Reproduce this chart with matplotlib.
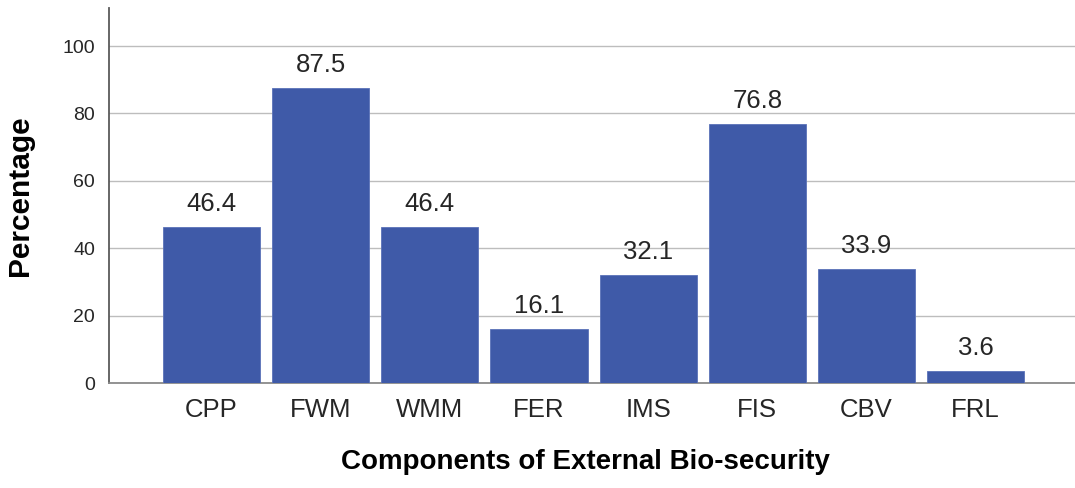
import matplotlib.pyplot as plt

plt.rcParams['font.family'] = ['Liberation Sans', 'DejaVu Sans']

components = ['CPP', 'FWM', 'WMM', 'FER', 'IMS', 'FIS', 'CBV', 'FRL']
percentage = [46.4, 87.5, 46.4, 16.1, 32.1, 76.8, 33.9, 3.6]
yticks = [0, 20, 40, 60, 80, 100]

fig = plt.figure(figsize=(10.75, 4.88), dpi=100)
ax = fig.add_axes([0.1014, 0.215, 0.8986, 0.7686])

x = range(len(components))
bars = ax.bar(x, percentage, width=0.89, color='#3f5aa8', edgecolor='#5b72b8',
              linewidth=0.6, zorder=3)

for xi, v in zip(x, percentage):
    ax.annotate(f'{v:.1f}', (xi, v), xytext=(0, 8), textcoords='offset points',
                ha='center', va='bottom', fontsize=18.5, color='#262626')

ax.set_xlim(-0.94, 7.91)
ax.set_ylim(0, 111.3)
ax.set_yticks(yticks)
ax.set_xticks(list(x))
ax.set_xticklabels(components, fontsize=18.5, color='#262626')
ax.tick_params(axis='x', length=0, pad=11)
ax.tick_params(axis='y', length=0, pad=10, labelsize=14, labelcolor='#262626')
ax.yaxis.grid(True, color='#bdbdbd', linewidth=1.0, zorder=0)
ax.set_axisbelow(True)

for s in ['top', 'right']:
    ax.spines[s].set_visible(False)
ax.spines['left'].set_color('#5a5a5a')
ax.spines['left'].set_linewidth(1.3)
ax.spines['bottom'].set_color('#8a8a8a')
ax.spines['bottom'].set_linewidth(1.3)

ax.set_ylabel('Percentage', fontsize=21.5, fontweight='bold')
ax.yaxis.set_label_coords(-0.078, 0.5)
ax.set_xlabel('Components of External Bio-security', fontsize=20,
              fontweight='bold')
ax.xaxis.set_label_coords(0.493, -0.177)

fig.savefig('out.png', dpi=100)
